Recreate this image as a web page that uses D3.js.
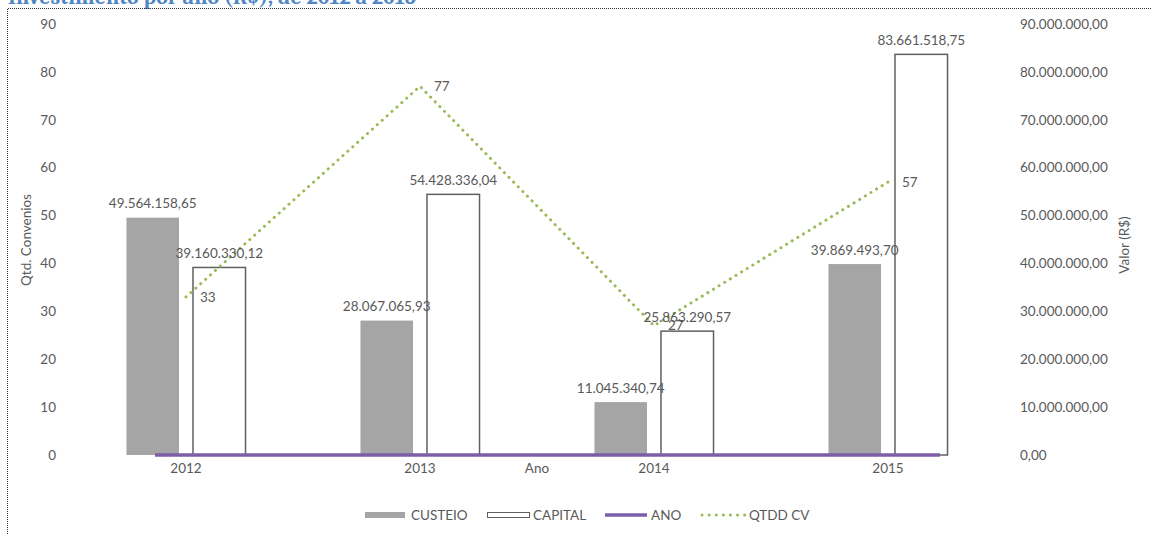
<!DOCTYPE html>
<html>
<head>
<meta charset="utf-8">
<script src="https://cdn.jsdelivr.net/npm/d3@7"></script>
<style>
  html, body { margin: 0; padding: 0; background: #fff; }
  text { font-family: Lato, "Open Sans", sans-serif; fill: #595959; }
</style>
</head>
<body>
<div id="chart"></div>
<script>
// dados
var anos = ['2012', '2013', '2014', '2015'];
var custeio = [49564158.65, 28067065.93, 11045340.74, 39869493.70];
var capital = [39160330.12, 54428336.04, 25863290.57, 83661518.75];
var anoSerie = [2012, 2013, 2014, 2015];
var qtddCv = [33, 77, 27, 57];
var ticksQtd = [0, 10, 20, 30, 40, 50, 60, 70, 80, 90];
var ticksValor = [0, 10e6, 20e6, 30e6, 40e6, 50e6, 60e6, 70e6, 80e6, 90e6];
var legenda = ['CUSTEIO', 'CAPITAL', 'ANO', 'QTDD CV'];

var width = 1151, height = 534;
var fs = '13.5px';
var br = d3.formatLocale({ decimal: ',', thousands: '.', grouping: [3], currency: ['R$', ''] });
var fmt = br.format(',.2f');

var svg = d3.select('#chart').append('svg')
  .attr('width', width)
  .attr('height', height);

// titulo cortado no topo
svg.append('text')
  .attr('x', 8)
  .attr('y', 4)
  .style('font-family', 'Cambria, "DejaVu Serif", serif')
  .style('font-size', '22px')
  .style('font-weight', 'bold')
  .style('fill', '#4f86c6')
  .text('Investimento por ano (R$), de 2012 a 2015');

// borda pontilhada
svg.append('path')
  .attr('d', 'M7.5,540 V8.5 H1151')
  .attr('fill', 'none')
  .attr('stroke', '#333')
  .attr('stroke-width', 1)
  .attr('stroke-dasharray', '1,1');

// escalas
var x = d3.scaleBand().domain(anos).range([69, 1005]);
var xs = d3.scaleBand().domain(['CUSTEIO', 'CAPITAL'])
  .range([0, x.bandwidth()]).paddingInner(0.21).paddingOuter(0.864);
var xAno = d3.scalePoint().domain(anos).range([155, 940]);
var y = d3.scaleLinear().domain([0, 90]).range([455, 24]);
var y2 = d3.scaleLinear().domain([0, 90e6]).range([455, 24]);

// eixo esquerdo
svg.selectAll('.tq').data(ticksQtd).enter().append('text')
  .attr('x', 56)
  .attr('y', function (d) { return y(d); })
  .attr('dy', '0.35em')
  .attr('text-anchor', 'end')
  .style('font-size', fs)
  .text(function (d) { return d; });

// eixo direito
svg.selectAll('.tv').data(ticksValor).enter().append('text')
  .attr('x', 1020)
  .attr('y', function (d) { return y2(d); })
  .attr('dy', '0.35em')
  .style('font-size', fs)
  .text(function (d) { return fmt(d); });

svg.append('text')
  .attr('transform', 'translate(31,240) rotate(-90)')
  .attr('text-anchor', 'middle')
  .style('font-size', fs)
  .text('Qtd. Convenios');

svg.append('text')
  .attr('transform', 'translate(1129,245) rotate(-90)')
  .attr('text-anchor', 'middle')
  .style('font-size', fs)
  .text('Valor (R$)');

// barras custeio
svg.selectAll('.custeio').data(custeio).enter().append('rect')
  .attr('x', function (d, i) { return x(anos[i]) + xs('CUSTEIO'); })
  .attr('y', function (d) { return y2(d); })
  .attr('width', xs.bandwidth())
  .attr('height', function (d) { return y2(0) - y2(d); })
  .attr('fill', '#a5a5a5');

// barras capital
svg.selectAll('.capital').data(capital).enter().append('rect')
  .attr('x', function (d, i) { return x(anos[i]) + xs('CAPITAL'); })
  .attr('y', function (d) { return y2(d); })
  .attr('width', xs.bandwidth())
  .attr('height', function (d) { return y2(0) - y2(d); })
  .attr('fill', '#fff')
  .attr('stroke', '#606060')
  .attr('stroke-width', 1.5);

// linha ANO (eixo secundario)
var lineAno = d3.line()
  .x(function (d, i) { return xAno(anos[i]); })
  .y(function (d) { return y2(d); });
svg.append('path')
  .datum(anoSerie)
  .attr('d', lineAno)
  .attr('fill', 'none')
  .attr('stroke', '#7b5ea7')
  .attr('stroke-width', 3.5);

// rotulos eixo x
svg.selectAll('.xl').data(anos).enter().append('text')
  .attr('x', function (d) { return x(d) + x.bandwidth() / 2; })
  .attr('y', 468)
  .attr('dy', '0.35em')
  .attr('text-anchor', 'middle')
  .style('font-size', fs)
  .text(function (d) { return d; });

svg.append('text')
  .attr('x', 537)
  .attr('y', 468)
  .attr('dy', '0.35em')
  .attr('text-anchor', 'middle')
  .style('font-size', fs)
  .text('Ano');

// linha QTDD CV
var lineQtd = d3.line()
  .x(function (d, i) { return x(anos[i]) + x.bandwidth() / 2; })
  .y(function (d) { return y(d); });
svg.append('path')
  .datum(qtddCv)
  .attr('d', lineQtd)
  .attr('fill', 'none')
  .attr('stroke', '#9bbb59')
  .attr('stroke-width', 3)
  .attr('stroke-linecap', 'round')
  .attr('stroke-dasharray', '0.1,6.5');

// rotulos das barras
svg.selectAll('.lc').data(custeio).enter().append('text')
  .attr('x', function (d, i) { return x(anos[i]) + xs('CUSTEIO') + xs.bandwidth() / 2; })
  .attr('y', function (d) { return y2(d) - 14; })
  .attr('dy', '0.35em')
  .attr('text-anchor', 'middle')
  .style('font-size', fs)
  .text(function (d) { return fmt(d); });

svg.selectAll('.lk').data(capital).enter().append('text')
  .attr('x', function (d, i) { return x(anos[i]) + xs('CAPITAL') + xs.bandwidth() / 2; })
  .attr('y', function (d) { return y2(d) - 14; })
  .attr('dy', '0.35em')
  .attr('text-anchor', 'middle')
  .style('font-size', fs)
  .text(function (d) { return fmt(d); });

// rotulos QTDD CV
svg.selectAll('.lq').data(qtddCv).enter().append('text')
  .attr('x', function (d, i) { return x(anos[i]) + x.bandwidth() / 2 + 14; })
  .attr('y', function (d) { return y(d); })
  .attr('dy', '0.35em')
  .style('font-size', fs)
  .text(function (d) { return d; });

// legenda
var lx = [365, 487, 605, 700];
var lg = svg.selectAll('.lg').data(legenda).enter().append('g')
  .attr('transform', function (d, i) { return 'translate(' + lx[i] + ',515)'; });
lg.each(function (d, i) {
  var g = d3.select(this);
  if (i === 0) {
    g.append('rect').attr('x', 0).attr('y', -3).attr('width', 40).attr('height', 6).attr('fill', '#a5a5a5');
  } else if (i === 1) {
    g.append('rect').attr('x', 0.5).attr('y', -2.5).attr('width', 42).attr('height', 5)
      .attr('fill', '#fff').attr('stroke', '#606060').attr('stroke-width', 1);
  } else if (i === 2) {
    g.append('line').attr('x1', 0).attr('x2', 42).attr('y1', 0).attr('y2', 0)
      .attr('stroke', '#7b5ea7').attr('stroke-width', 3.5);
  } else {
    g.append('line').attr('x1', 2).attr('x2', 45).attr('y1', 0).attr('y2', 0)
      .attr('stroke', '#9bbb59').attr('stroke-width', 3)
      .attr('stroke-linecap', 'round').attr('stroke-dasharray', '0.1,7');
  }
  g.append('text')
    .attr('x', i === 3 ? 49 : 46)
    .attr('y', 0)
    .attr('dy', '0.35em')
    .style('font-size', fs)
    .text(d);
});
</script>
</body>
</html>
